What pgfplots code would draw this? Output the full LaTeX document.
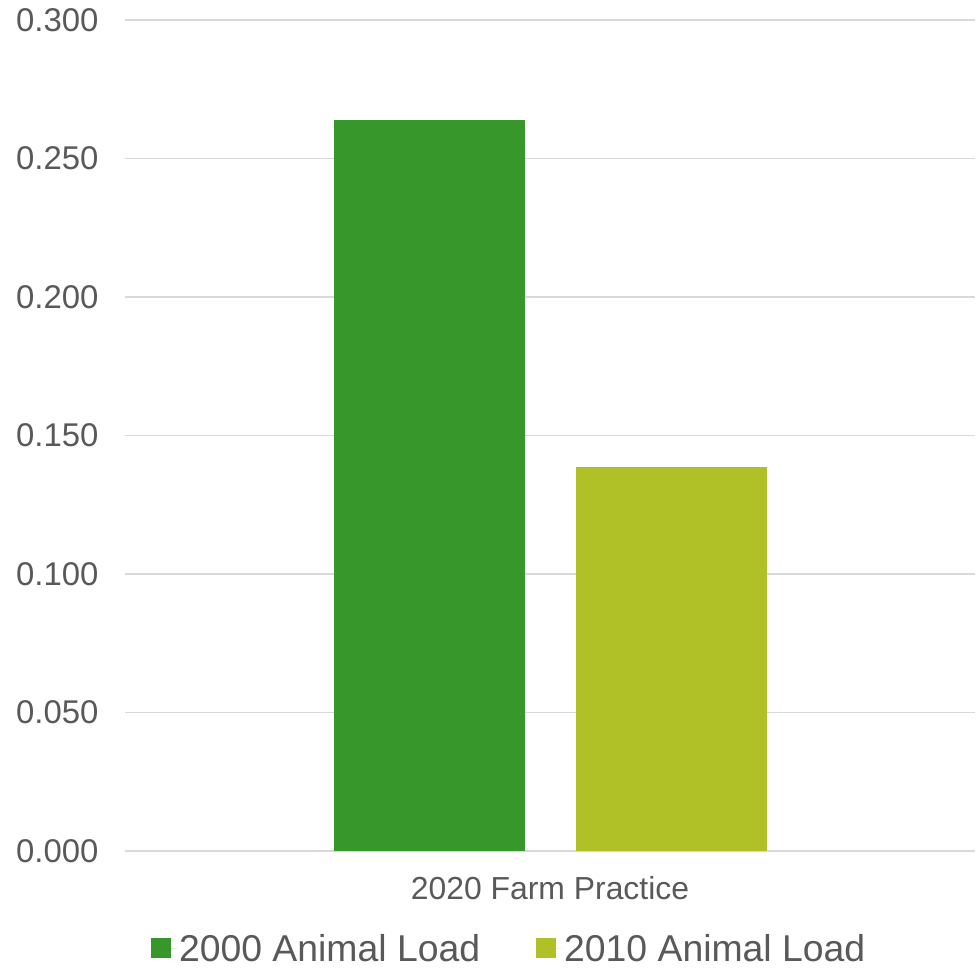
\documentclass[border=0pt]{standalone}
\usepackage{fontspec}
\setmainfont{Liberation Sans}
\usepackage{pgfplots}
\pgfplotsset{compat=1.18}
\definecolor{barA}{HTML}{38972B}
\definecolor{barB}{HTML}{B0C128}
\definecolor{gridc}{HTML}{D9D9D9}
\definecolor{txt}{HTML}{595959}
\begin{document}
\begin{tikzpicture}
\begin{axis}[
  name=ax,
  scale only axis,
  width=850bp, height=831bp,
  ybar=51bp, bar width=191bp,
  xmin=-0.5, xmax=0.5,
  ymin=0, ymax=0.3,
  xtick={0}, xticklabels={2020 Farm Practice},
  ytick={0,0.05,0.1,0.15,0.2,0.25,0.3},
  /pgf/number format/assume math mode=true,
  yticklabel style={/pgf/number format/.cd,fixed,fixed zerofill,precision=3,/tikz/.cd, font=\fontsize{33}{36}\selectfont, text=txt, xshift=-23bp},
  xticklabel style={font=\fontsize{32}{34}\selectfont, text=txt, yshift=-22bp},
  major tick length=0pt,
  axis x line=bottom, axis y line=left,
  y axis line style={draw=none},
  x axis line style={draw=gridc, line width=1.5bp, -},
  ymajorgrids, grid style={draw=gridc, line width=1.2bp},
  legend columns=2,
  legend style={draw=none, at={(0.452,-0.117)}, anchor=center, font=\fontsize{37.5}{40}\selectfont, text=txt,
    /tikz/every even column/.append style={column sep=54bp}},
  legend image code/.code={\fill[#1] (0bp,-10bp) rectangle (20bp,10bp); \path (0bp,0bp) -- (26bp,0bp);},
]
\addplot[fill=barA, draw=none] coordinates {(0,0.264)};
\addplot[fill=barB, draw=none] coordinates {(0,0.1387)};
\legend{2000 Animal Load, 2010 Animal Load}
\end{axis}
\pgfresetboundingbox
\path[use as bounding box] ([xshift=-125bp,yshift=-117bp]ax.south west) rectangle ([xshift=2bp,yshift=20bp]ax.north east);
\end{tikzpicture}
\end{document}
